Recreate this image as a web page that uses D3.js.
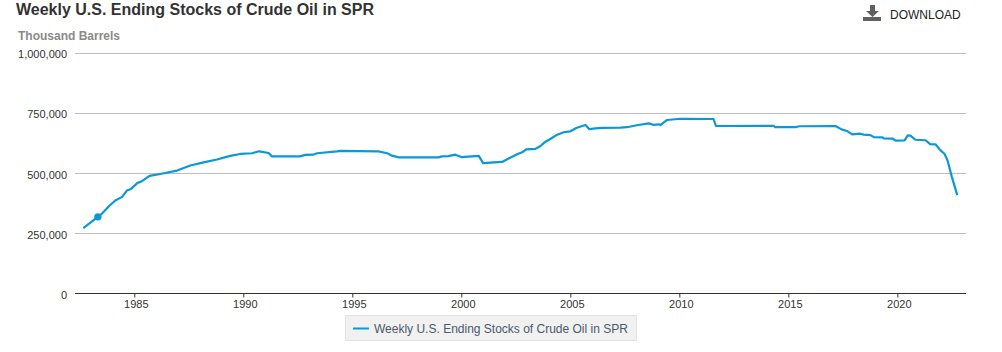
<!DOCTYPE html>
<html>
<head>
<meta charset="utf-8">
<script src="https://d3js.org/d3.v7.min.js"></script>
<style>
  html, body { margin: 0; padding: 0; background: #fff; overflow: hidden; }
  svg { display: block; font-family: "Liberation Sans", Arial, sans-serif; }
</style>
</head>
<body>
<svg id="chart" width="1002" height="352"></svg>
<script>
const title = "Weekly U.S. Ending Stocks of Crude Oil in SPR";
const unitLabel = "Thousand Barrels";
const seriesName = "Weekly U.S. Ending Stocks of Crude Oil in SPR";
const xTicks = [1985, 1990, 1995, 2000, 2005, 2010, 2015, 2020];
const yTicks = [0, 250000, 500000, 750000, 1000000];

// decimal years and thousand barrels
const years = [
  1982.66, 1983.33, 1983.52, 1983.87, 1984.13, 1984.44, 1984.66, 1984.85, 1985.15, 1985.35,
  1985.70, 1986.19, 1986.96, 1987.57, 1988.18, 1988.79, 1989.40, 1989.86, 1990.40, 1990.73,
  1991.16, 1991.31, 1992.60, 1992.84, 1993.20, 1993.38, 1994.30, 1994.45, 1996.20, 1996.60,
  1996.82, 1997.13, 1998.96, 1999.10, 1999.40, 1999.72, 2000.00, 2000.80, 2001.00, 2001.87,
  2002.17, 2002.56, 2002.79, 2002.98, 2003.40, 2003.63, 2003.86, 2004.10, 2004.40, 2004.70,
  2005.00, 2005.30, 2005.70, 2005.87, 2006.15, 2006.45, 2007.30, 2007.60, 2008.05, 2008.60,
  2008.80, 2009.05, 2009.13, 2009.44, 2010.05, 2011.57, 2011.68, 2014.32, 2014.40, 2015.32,
  2015.50, 2017.16, 2017.47, 2017.70, 2017.93, 2018.30, 2018.46, 2018.77, 2018.92, 2019.30,
  2019.38, 2019.77, 2019.92, 2020.33, 2020.48, 2020.60, 2020.83, 2021.30, 2021.50, 2021.75,
  2021.98, 2022.16, 2022.30, 2022.50, 2022.75
];
const stocks = [
  271000, 318000, 332000, 365000, 386000, 401000, 427000, 434000, 459000, 466000,
  488000, 496000, 510000, 531000, 544000, 556000, 571000, 579000, 582000, 590000,
  583000, 569000, 569000, 575000, 576000, 582000, 590000, 592000, 590000, 582000,
  572000, 565000, 565000, 569000, 570000, 576000, 566000, 571000, 541000, 546000,
  560000, 578000, 586000, 598000, 600000, 612000, 630000, 642000, 659000, 669000,
  673000, 688000, 699000, 682000, 685000, 687000, 688000, 690000, 698000, 706000,
  700000, 702000, 699000, 720000, 725000, 724000, 695000, 696000, 690000, 690000,
  694000, 695000, 680000, 674000, 660000, 663000, 659000, 657000, 649000, 648000,
  644000, 643000, 634000, 635000, 656000, 655000, 638000, 636000, 620000, 619000,
  594000, 580000, 553000, 484000, 408000
];
const markerIndex = 1;

const color = "#0b98d8";
const svg = d3.select("#chart");

const scX = d3.scaleLinear().domain([1982.28, 2023.15]).range([75, 966]);
const scY = d3.scaleLinear().domain([0, 1000000]).range([293.5, 52.5]);

// gridlines
svg.selectAll("line.grid").data(yTicks.filter(d => d > 0)).join("line")
    .attr("class", "grid")
    .attr("x1", scX.range()[0]).attr("x2", scX.range()[1])
    .attr("y1", d => Math.round(scY(d)) + 0.5).attr("y2", d => Math.round(scY(d)) + 0.5)
    .attr("stroke", "#bdbdbd");

// y labels
svg.selectAll("text.ylab").data(yTicks).join("text")
    .attr("class", "ylab")
    .attr("x", 67).attr("y", d => scY(d) + 5.5)
    .attr("text-anchor", "end")
    .attr("font-size", 11).attr("fill", "#333")
    .text(d3.format(","));

// x axis
const xAxis = d3.axisBottom(scX)
    .tickValues(xTicks)
    .tickFormat(d3.format("d"))
    .tickSize(4);
const gx = svg.append("g").attr("transform", "translate(0,293.5)").call(xAxis);
gx.select(".domain").attr("stroke", "#333").attr("d", `M${scX.range()[0]},0H${scX.range()[1]}`);
gx.selectAll(".tick line").attr("stroke", "#333");
gx.selectAll(".tick text")
    .attr("font-family", "'Liberation Sans', Arial, sans-serif")
    .attr("font-size", 11).attr("fill", "#333")
    .attr("y", 14).attr("dy", 0).attr("dx", 1.5);

// series
const line = d3.line().x(d => scX(d[0])).y(d => scY(d[1]));
svg.append("path")
    .datum(d3.zip(years, stocks))
    .attr("d", line)
    .attr("fill", "none")
    .attr("stroke", color).attr("stroke-width", 2.2).attr("stroke-linejoin", "round");
svg.append("circle")
    .attr("cx", scX(years[markerIndex])).attr("cy", scY(stocks[markerIndex]))
    .attr("r", 3.7).attr("fill", color);

// header
svg.append("text").attr("x", 16).attr("y", 15)
    .attr("font-size", 16).attr("font-weight", "bold").attr("fill", "#333")
    .text(title);
svg.append("text").attr("x", 18).attr("y", 39.5)
    .attr("font-size", 12).attr("font-weight", "bold").attr("fill", "#8a8a8a")
    .text(unitLabel);

// download button
svg.append("path")
    .attr("d", "M870,5H875V11H879L872.5,17L866,11H870ZM863,17H881V21H863Z")
    .attr("fill", "#616161");
svg.append("text").attr("x", 890).attr("y", 19)
    .attr("font-size", 12).attr("fill", "#222")
    .text("DOWNLOAD");

// legend
svg.append("rect").attr("x", 345.5).attr("y", 315.5).attr("width", 291).attr("height", 25)
    .attr("fill", "#f1f1f1").attr("stroke", "#e3e3e3");
svg.append("line").attr("x1", 353).attr("x2", 369).attr("y1", 328.5).attr("y2", 328.5)
    .attr("stroke", color).attr("stroke-width", 2);
svg.append("text").attr("x", 374).attr("y", 333)
    .attr("font-size", 12).attr("fill", "#4a5a6c")
    .text(seriesName);
</script>
</body>
</html>
